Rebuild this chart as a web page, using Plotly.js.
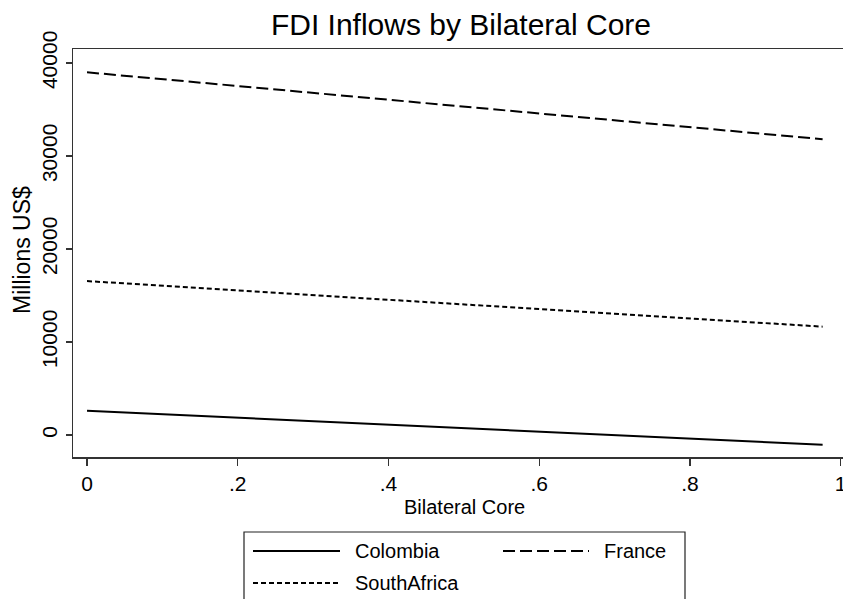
<!DOCTYPE html>
<html>
<head>
<meta charset="utf-8">
<script src="https://cdn.plot.ly/plotly-3.0.1.min.js"></script>
<style>html,body{margin:0;padding:0;background:#fff;}#chart{width:843px;height:599px;}</style>
</head>
<body>
<div id="chart"></div>
<script>
// ---- data ----
const seriesNames = ["Colombia", "France", "SouthAfrica"];
const xCore = [0, 0.976];
const colombia = [2600, -1050];
const france = [39000, 31800];
const southAfrica = [16550, 11650];
const xTickVals = [0, 0.2, 0.4, 0.6, 0.8, 1];
const xTickText = ["0", ".2", ".4", ".6", ".8", "1"];
const yTickVals = [0, 10000, 20000, 30000, 40000];

// ---- layout geometry ----
const W = 843, H = 599;
const M = {l: 73, r: 0, t: 49, b: 142};
const PW = W - M.l - M.r, PH = H - M.t - M.b;
const px = x => (x - M.l) / PW;          // pixel -> paper x
const py = y => (H - M.b - y) / PH;      // pixel -> paper y

const FONT = "Liberation Sans, Arial, sans-serif";
const dashes = {Colombia: "solid", France: "12px,5px", SouthAfrica: "5px,3px"};
const valuesByName = {Colombia: colombia, France: france, SouthAfrica: southAfrica};

const traces = seriesNames.map(n => ({
  x: xCore, y: valuesByName[n], type: "scatter", mode: "lines", name: n,
  line: {color: "#000", width: 2, dash: dashes[n]}, showlegend: false, hoverinfo: "skip"
}));

// custom legend (Stata-like long samples)
const legendItems = [
  {name: seriesNames[0], x0: 253, x1: 340, tx: 353, y: 551},
  {name: seriesNames[1], x0: 503, x1: 589, tx: 602, y: 551},
  {name: seriesNames[2], x0: 253, x1: 340, tx: 353, y: 583}
];
const shapes = [
  {type: "rect", xref: "paper", yref: "paper", x0: px(244), x1: px(685), y0: py(532), y1: py(640),
   line: {color: "#222", width: 1.2}, fillcolor: "rgba(0,0,0,0)"}
];
const annotations = [
  {text: "Millions US$", xref: "paper", yref: "paper", x: px(22), y: py(250), textangle: -90,
   showarrow: false, font: {family: FONT, size: 23, color: "#000"}, xanchor: "center", yanchor: "middle"},
  {text: "Bilateral Core", xref: "paper", yref: "paper", x: px(464), y: py(507),
   showarrow: false, font: {family: FONT, size: 20, color: "#000"}, xanchor: "center", yanchor: "middle"}
];
legendItems.forEach(it => {
  shapes.push({type: "line", xref: "paper", yref: "paper", x0: px(it.x0), x1: px(it.x1), y0: py(it.y), y1: py(it.y),
    line: {color: "#000", width: 2, dash: dashes[it.name]}});
  annotations.push({text: it.name, xref: "paper", yref: "paper", x: px(it.tx), y: py(it.y),
    showarrow: false, xanchor: "left", yanchor: "middle", font: {family: FONT, size: 20, color: "#000"}});
});

const layout = {
  width: W, height: H,
  margin: M,
  paper_bgcolor: "#fff", plot_bgcolor: "#fff",
  font: {family: FONT, color: "#000"},
  title: {text: "FDI Inflows by Bilateral Core", font: {family: FONT, size: 30, color: "#000"},
          xref: "container", yref: "container", x: 461 / W, y: 1 - 24 / H, xanchor: "center", yanchor: "middle"},
  xaxis: {
    range: [(73 - 87) / 753.7, (843 - 87) / 753.7],
    tickvals: xTickVals, ticktext: xTickText,
    ticks: "outside", ticklen: 7, tickwidth: 1.2, tickcolor: "#333",
    showline: true, linecolor: "#333", linewidth: 1.5, mirror: true,
    showgrid: false, zeroline: false, ticklabeloverflow: "allow",
    tickfont: {family: FONT, size: 21, color: "#000"}
  },
  yaxis: {
    range: [-(457 - 435) / 0.0093, (435 - 49) / 0.0093],
    tickvals: yTickVals, tickformat: "d", tickangle: -90,
    ticks: "outside", ticklen: 6, tickwidth: 1.2, tickcolor: "#333",
    showline: true, linecolor: "#333", linewidth: 1.5,
    showgrid: false, zeroline: false,
    tickfont: {family: FONT, size: 21, color: "#000"}
  },
  shapes: shapes,
  annotations: annotations,
  showlegend: false
};

Plotly.newPlot("chart", traces, layout, {staticPlot: true, displayModeBar: false});
</script>
</body>
</html>
